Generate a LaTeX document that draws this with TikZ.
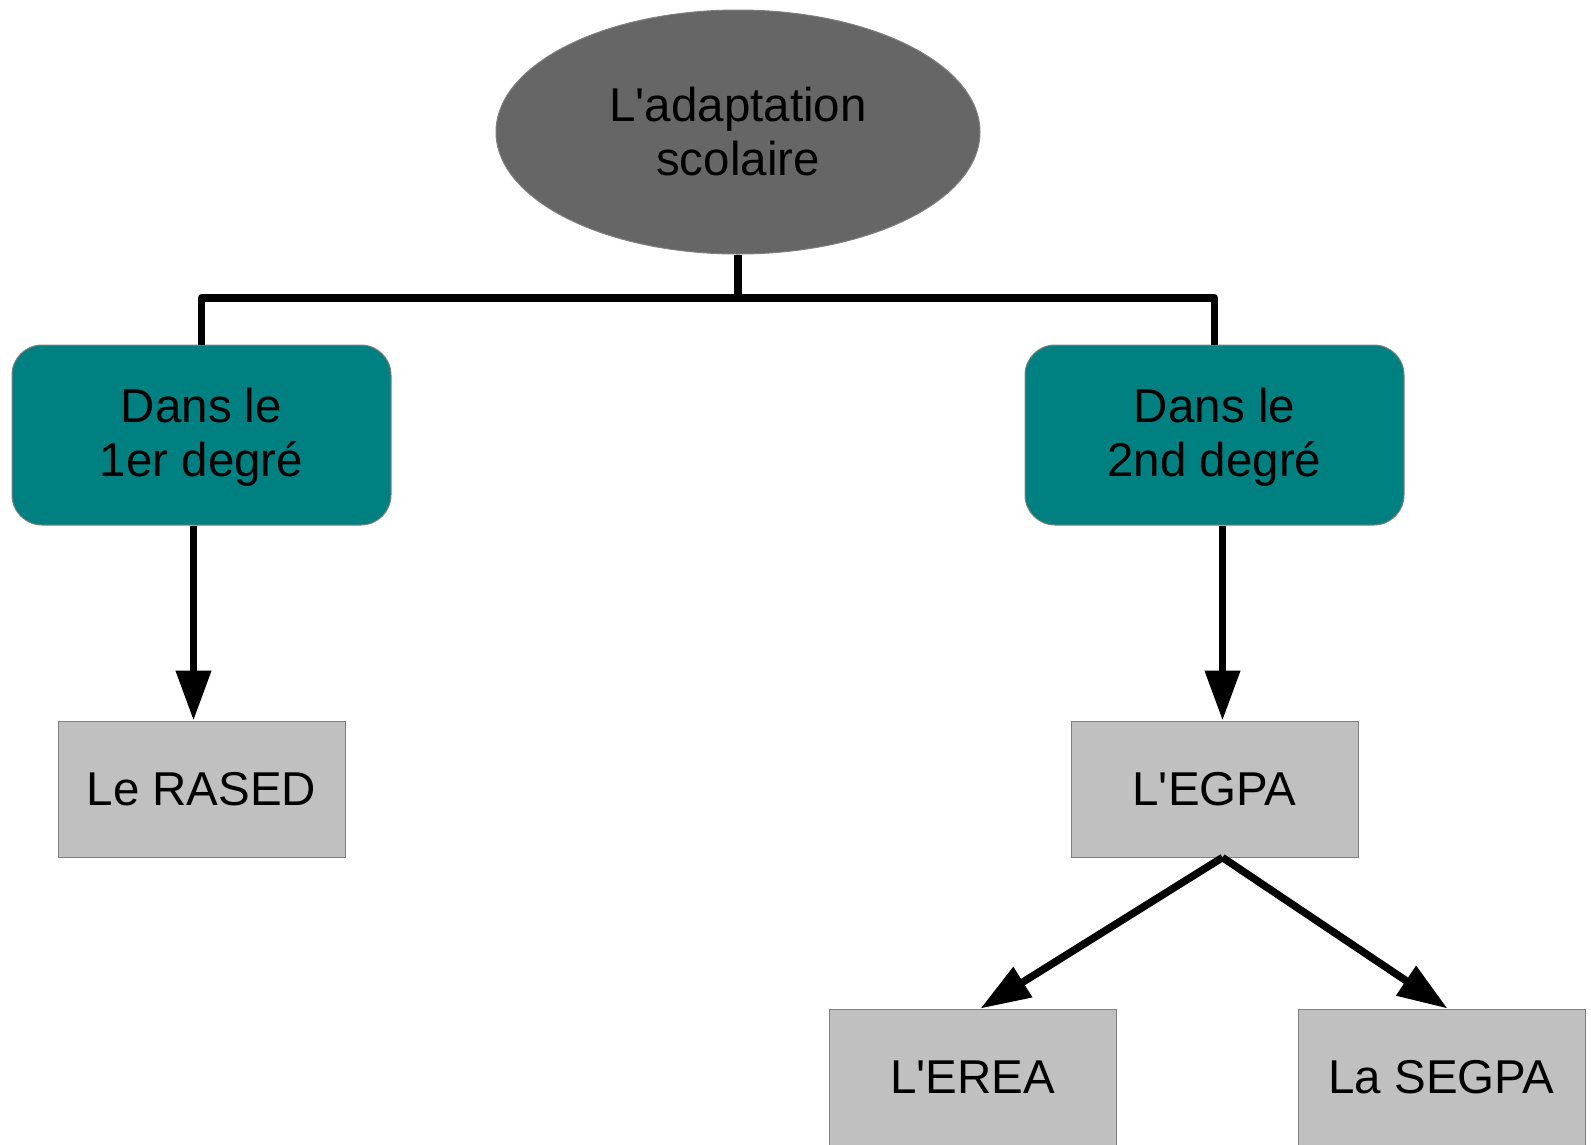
\documentclass[tikz,border=0pt]{standalone}
\usepackage{fontspec}
\setmainfont{Liberation Sans}
\usetikzlibrary{arrows.meta,shapes.geometric,calc}
\definecolor{ellgray}{HTML}{666666}
\definecolor{tealbox}{HTML}{008080}
\definecolor{lightbox}{HTML}{C0C0C0}
\definecolor{edgegray}{HTML}{808080}
\begin{document}
\begin{tikzpicture}[x=1pt,y=-1pt,
  txt/.style={font=\fontsize{47.5}{54}\selectfont, align=center, text=black},
  topell/.style={txt, ellipse, draw=edgegray, line width=1pt, fill=ellgray, minimum width=484pt, minimum height=244pt, inner sep=0pt},
  degbox/.style={txt, rectangle, rounded corners=30pt, draw=edgegray, line width=1pt, fill=tealbox, minimum width=379pt, minimum height=180pt, inner sep=0pt},
  leafbox/.style={txt, rectangle, draw=edgegray, line width=1pt, fill=lightbox, minimum width=287pt, minimum height=136pt, inner sep=0pt},
  link/.style={line width=7.5pt, line join=round, draw=black},
  arr/.style={link, -{Triangle[length=50pt,width=34pt]}}
]
\useasboundingbox (0,0) rectangle (1591,1144);
\node[topell] (top) at (738,132) {L\textquotesingle adaptation\\scolaire};
\node[degbox] (d1) at (201.5,435) {\rule{0pt}{38pt}Dans le\\1er degré};
\node[degbox] (d2) at (1214.5,435) {\rule{0pt}{38pt}Dans le\\2nd degré};
\node[leafbox] (rased) at (201.5,789) {Le RASED};
\node[leafbox] (egpa) at (1214.5,789) {L\textquotesingle EGPA};
\node[leafbox] (erea) at (972.5,1077) {L\textquotesingle EREA};
\node[leafbox] (segpa) at (1441.5,1077) {La SEGPA};
\coordinate (bar) at (738,298);
\draw[link] (top.south) -- (bar) -| (d1.north);
\draw[link] (bar) -| (d2.north);
\draw[arr] ([xshift=-8pt]d1.south) -- ([xshift=-8pt]rased.north);
\draw[arr] ([xshift=8pt]d2.south) -- ([xshift=8pt]egpa.north);
\draw[arr] ([xshift=8pt]egpa.south) -- ([xshift=8pt]erea.north);
\draw[arr] ([xshift=8pt]egpa.south) -- ([xshift=6pt]segpa.north);
\end{tikzpicture}
\end{document}
